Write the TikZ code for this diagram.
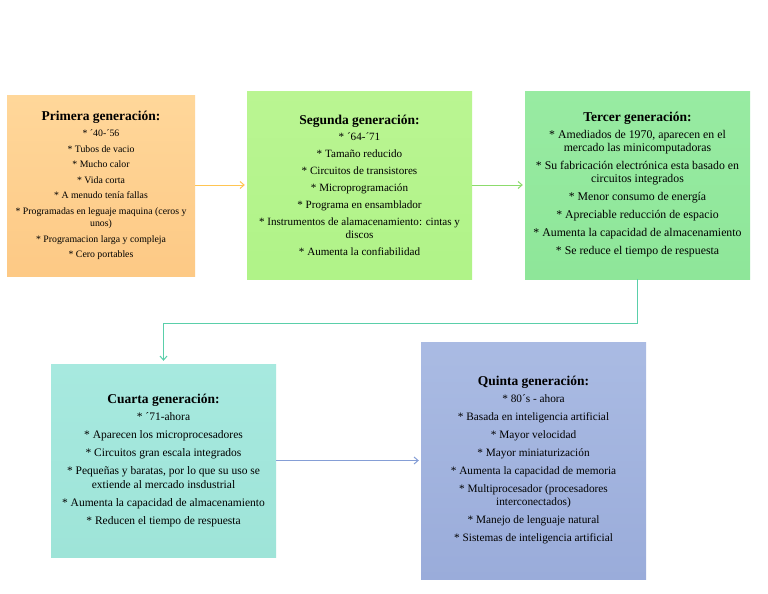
\documentclass[tikz,border=0pt]{standalone}
\usepackage{fontspec}
\setmainfont{Liberation Serif}
\usetikzlibrary{arrows.meta,calc}
\definecolor{c1t}{HTML}{FFD79A}\definecolor{c1b}{HTML}{FDC985}
\definecolor{c2t}{HTML}{BAF592}\definecolor{c2b}{HTML}{B0F388}
\definecolor{c3t}{HTML}{98EBA2}\definecolor{c3b}{HTML}{8EE699}
\definecolor{c4t}{HTML}{A7E9DF}\definecolor{c4b}{HTML}{9EE4D8}
\definecolor{c5t}{HTML}{AABBE3}\definecolor{c5b}{HTML}{9AACDA}
\definecolor{a1}{HTML}{FFC552}\definecolor{a2}{HTML}{8CDB6C}
\definecolor{a3}{HTML}{5ACFAA}\definecolor{a4}{HTML}{859ED6}
\tikzset{
  genbox/.style={rectangle, draw=none, align=center, inner sep=0pt, text=black},
  conn/.style={line width=1pt, -{Straight Barb[length=4pt,width=7pt]}, shorten >=2pt},
}
\newcommand{\ttlfont}{\bfseries\fontsize{13.5}{15}\selectfont}
\begin{document}
\begin{tikzpicture}[x=1pt,y=-1pt]
\useasboundingbox (0,0) rectangle (768,594);
\fill[white] (0,0) rectangle (768,594);
\node[genbox, top color=c1t, bottom color=c1b, minimum width=188pt, minimum height=181pt,
  font=\fontsize{9.8}{12.5}\selectfont] (g1) at (101,185.5)
  {{\ttlfont Primera generación:}\\[3.5pt]
   * ´40-´56\\[3pt]
   * Tubos de vacio\\[3pt]
   * Mucho calor\\[3pt]
   * Vida corta\\[3pt]
   * A menudo tenía fallas\\[3pt]
   * Programadas en leguaje maquina (ceros y\\
   unos)\\[3pt]
   * Programacion larga y compleja\\[3pt]
   * Cero portables};
\node[genbox, top color=c2t, bottom color=c2b, minimum width=225pt, minimum height=188pt,
  font=\fontsize{11.1}{12.5}\selectfont] (g2) at (359.5,185)
  {{\ttlfont Segunda generación:}\\[4pt]
   * ´64-´71\\[4.5pt]
   * Tamaño reducido\\[4.5pt]
   * Circuitos de transistores\\[4.5pt]
   * Microprogramación\\[4.5pt]
   * Programa en ensamblador\\[4.5pt]
   * Instrumentos de alamacenamiento: cintas y\\
   discos\\[4.5pt]
   * Aumenta la confiabilidad};
\node[genbox, top color=c3t, bottom color=c3b, minimum width=225pt, minimum height=188pt,
  font=\fontsize{11.8}{13}\selectfont] (g3) at (637.5,185)
  {{\ttlfont Tercer generación:}\\[4pt]
   * Amediados de 1970, aparecen en el\\
   mercado las minicomputadoras\\[5pt]
   * Su fabricación electrónica esta basado en\\
   circuitos integrados\\[5pt]
   * Menor consumo de energía\\[5pt]
   * Apreciable reducción de espacio\\[5pt]
   * Aumenta la capacidad de almacenamiento\\[5pt]
   * Se reduce el tiempo de respuesta};
\node[genbox, top color=c4t, bottom color=c4b, minimum width=225pt, minimum height=193pt,
  font=\fontsize{11.5}{13.5}\selectfont] (g4) at (163.5,460.5)
  {{\ttlfont Cuarta generación:}\\[4pt]
   * ´71-ahora\\[4.5pt]
   * Aparecen los microprocesadores\\[4.5pt]
   * Circuitos gran escala integrados\\[4.5pt]
   * Pequeñas y baratas, por lo que su uso se\\
   extiende al mercado insdustrial\\[4.5pt]
   * Aumenta la capacidad de almacenamiento\\[4.5pt]
   * Reducen el tiempo de respuesta};
\node[genbox, top color=c5t, bottom color=c5b, minimum width=225pt, minimum height=237pt,
  font=\fontsize{11.3}{13}\selectfont] (g5) at (533.5,460.5)
  {{\ttlfont Quinta generación:}\\[4pt]
   * 80´s - ahora\\[5pt]
   * Basada en inteligencia artificial\\[5pt]
   * Mayor velocidad\\[5pt]
   * Mayor miniaturización\\[5pt]
   * Aumenta la capacidad de memoria\\[5pt]
   * Multiprocesador (procesadores\\
   interconectados)\\[5pt]
   * Manejo de lenguaje natural\\[5pt]
   * Sistemas de inteligencia artificial};
\coordinate (bend) at (638,323);
\draw[conn, a1] (g1.east |- g2.west) -- (g2.west);
\draw[conn, a2] (g2.east) -- (g3.west);
\draw[conn, a3, shorten >=3pt] (g3.south) -- (g3.south |- bend) -| (g4.north);
\draw[conn, a4] (g4.east) -- (g5.west);
\end{tikzpicture}
\end{document}
